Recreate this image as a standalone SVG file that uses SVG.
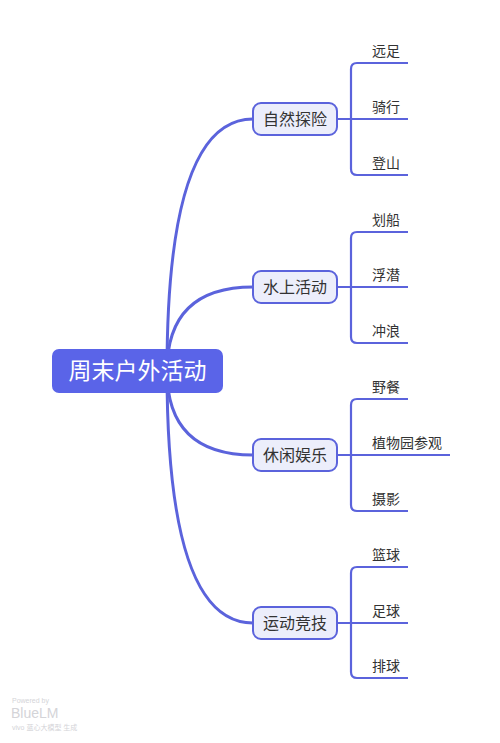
<svg xmlns="http://www.w3.org/2000/svg" width="500" height="743" viewBox="0 0 500 743">
<style>
.bg{fill:#ffffff}
.conn{fill:none;stroke:#5b63dc;stroke-width:3;stroke-linecap:round}
.br{fill:none;stroke:#5b63dc;stroke-width:2.2}
.root rect{fill:#5a64e8}
.root text{fill:#ffffff;font-family:"Noto Sans CJK SC","Noto Sans",sans-serif;font-size:23px;text-anchor:middle}
.sub rect{fill:#eceefb;stroke:#5b63dc;stroke-width:2}
.sub text{fill:#333333;font-family:"Noto Sans CJK SC","Noto Sans",sans-serif;font-size:16px;text-anchor:middle}
.leaf text{fill:#333333;font-family:"Noto Sans CJK SC","Noto Sans",sans-serif;font-size:14px}
.wm{fill:#d4d4d8;font-family:"Liberation Sans","Noto Sans CJK SC",sans-serif}
</style>
<rect class="bg" x="0" y="0" width="500" height="743"/>
<g id="connectors">
<path class="conn" d="M167,371 Q167,119 253,119"/>
<path class="conn" d="M167,371 Q167,287 253,287"/>
<path class="conn" d="M167,371 Q167,455 253,455"/>
<path class="conn" d="M167,371 Q167,623 253,623"/>
<path class="br" d="M337,119 H408 M408,63 H357 Q351,63 351,69 V169 Q351,175 357,175 H408"/>
<path class="br" d="M337,287 H408 M408,232 H357 Q351,232 351,238 V337 Q351,343 357,343 H408"/>
<path class="br" d="M337,455 H450 M408,399 H357 Q351,399 351,405 V505 Q351,511 357,511 H408"/>
<path class="br" d="M337,623 H408 M408,567 H357 Q351,567 351,573 V672 Q351,678 357,678 H408"/>
</g>
<g id="root" class="root">
<rect x="52" y="349" width="171" height="44" rx="7"/>
<text x="137.5" y="379">周末户外活动</text>
</g>
<g id="n1" class="sub">
<rect x="253" y="103" width="84" height="32" rx="8"/>
<text x="295" y="125">自然探险</text>
</g>
<g id="n2" class="sub">
<rect x="253" y="271" width="84" height="32" rx="8"/>
<text x="295" y="293">水上活动</text>
</g>
<g id="n3" class="sub">
<rect x="253" y="439" width="84" height="32" rx="8"/>
<text x="295" y="461">休闲娱乐</text>
</g>
<g id="n4" class="sub">
<rect x="253" y="607" width="84" height="32" rx="8"/>
<text x="295" y="629">运动竞技</text>
</g>
<g id="l1" class="leaf"><text x="372" y="56">远足</text></g>
<g id="l2" class="leaf"><text x="372" y="112">骑行</text></g>
<g id="l3" class="leaf"><text x="372" y="168">登山</text></g>
<g id="l4" class="leaf"><text x="372" y="225">划船</text></g>
<g id="l5" class="leaf"><text x="372" y="280">浮潜</text></g>
<g id="l6" class="leaf"><text x="372" y="336">冲浪</text></g>
<g id="l7" class="leaf"><text x="372" y="392">野餐</text></g>
<g id="l8" class="leaf"><text x="372" y="448">植物园参观</text></g>
<g id="l9" class="leaf"><text x="372" y="504">摄影</text></g>
<g id="l10" class="leaf"><text x="372" y="560">篮球</text></g>
<g id="l11" class="leaf"><text x="372" y="616">足球</text></g>
<g id="l12" class="leaf"><text x="372" y="671">排球</text></g>
<g id="watermark">
<text class="wm" x="12" y="703" font-size="7">Powered by</text>
<text class="wm" x="11" y="718" font-size="14">BlueLM</text>
<text class="wm" x="12" y="730" font-size="7">vivo 蓝心大模型 生成</text>
</g>
</svg>
